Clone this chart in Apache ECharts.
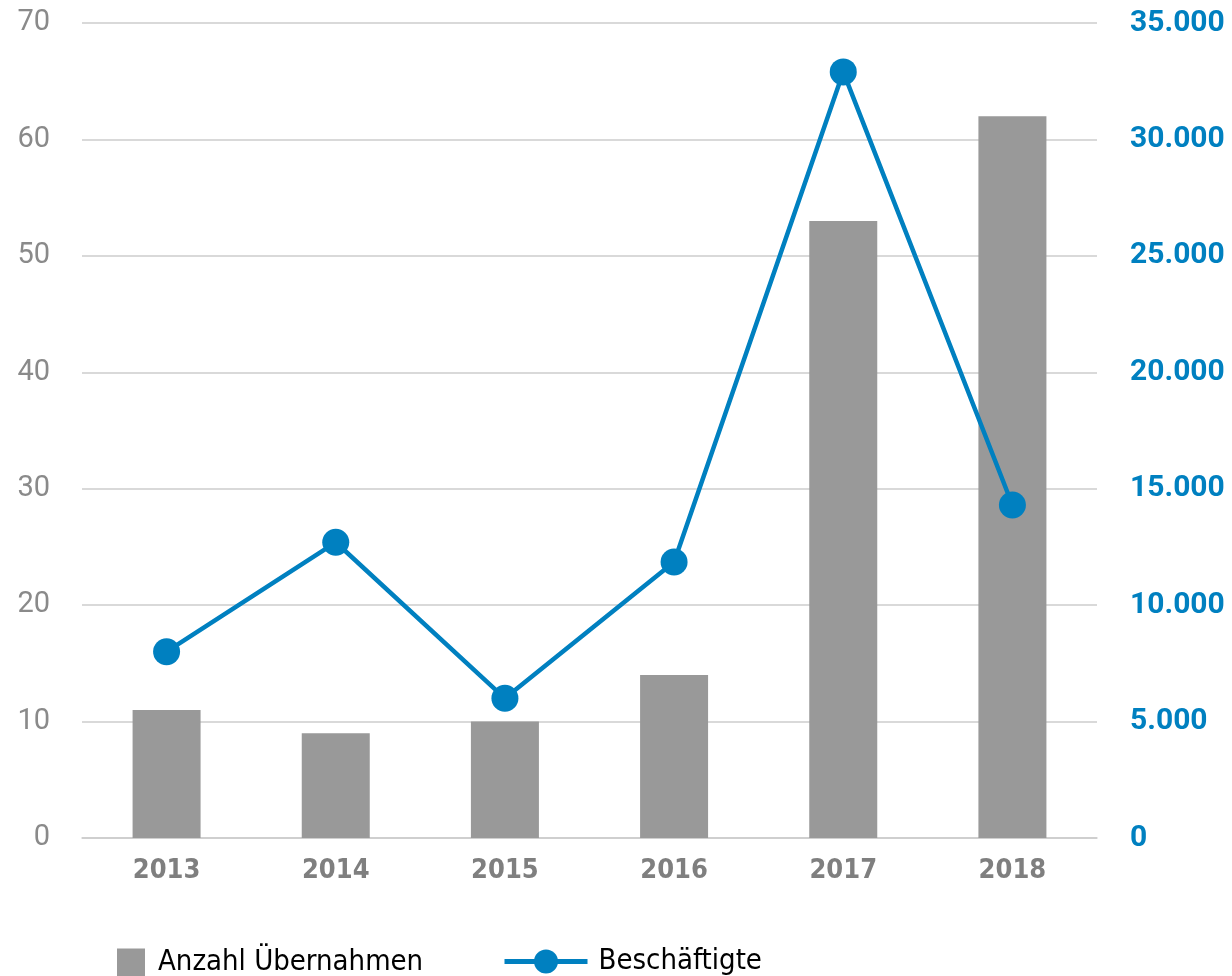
<!DOCTYPE html>
<html>
<head>
<meta charset="utf-8">
<script src="https://cdn.jsdelivr.net/npm/echarts@6/dist/echarts.min.js"></script>
<style>
  html, body { margin: 0; padding: 0; background: #fff; }
  #chart { width: 1232px; height: 976px; }
</style>
</head>
<body>
<div id="chart"></div>
<script>
// Data
var years = ['2013', '2014', '2015', '2016', '2017', '2018'];
var uebernahmen = [11, 9, 10, 14, 53, 62];
var beschaeftigte = [8000, 12700, 6000, 11850, 32900, 14300];

var narrow = '"Liberation Sans Narrow", "DejaVu Sans Condensed", Roboto, sans-serif';
var blue = '#0080C0';

var chart = echarts.init(document.getElementById('chart'), null, { renderer: 'canvas' });

var option = {
  animation: false,
  grid: { left: 82, right: 135, top: 23, bottom: 138 },
  legend: [
    {
      data: ['Anzahl Übernahmen'],
      left: 112, top: 943,
      itemWidth: 28, itemHeight: 28,
      icon: 'rect',
      textStyle: { fontFamily: narrow, fontSize: 29, color: '#000', padding: [0, 0, 0, 8] }
    },
    {
      data: ['Beschäftigte'],
      left: 497, top: 942,
      itemWidth: 83, itemHeight: 30,
      lineStyle: { width: 5 },
      textStyle: { fontFamily: narrow, fontSize: 29, color: '#000', padding: [0, 0, 0, 6] }
    }
  ],
  xAxis: {
    type: 'category',
    data: years,
    axisTick: { show: false },
    axisLine: { lineStyle: { color: '#cccccc', width: 1.5 } },
    axisLabel: { fontFamily: narrow, fontWeight: 'bold', fontSize: 27, color: '#7f7f7f', margin: 19 }
  },
  yAxis: [
    {
      type: 'value', min: 0, max: 70, interval: 10,
      axisLabel: { fontFamily: 'Roboto, sans-serif', fontSize: 29, color: '#8a8a8a', margin: 32 },
      splitLine: { lineStyle: { color: '#cccccc', width: 1.5 } },
      axisLine: { show: false }, axisTick: { show: false }
    },
    {
      type: 'value', min: 0, max: 35000, interval: 5000,
      position: 'right',
      axisLabel: {
        fontFamily: 'Roboto, sans-serif', fontSize: 30, fontWeight: 'bold', color: blue, margin: 33,
        formatter: function (v) { return v === 0 ? '0' : (v / 1000).toFixed(3); }
      },
      splitLine: { show: false },
      axisLine: { show: false }, axisTick: { show: false }
    }
  ],
  series: [
    {
      name: 'Anzahl Übernahmen',
      type: 'bar',
      data: uebernahmen,
      barWidth: 68,
      itemStyle: { color: '#999999' }
    },
    {
      name: 'Beschäftigte',
      type: 'line',
      yAxisIndex: 1,
      data: beschaeftigte,
      symbol: 'circle',
      symbolSize: 27,
      lineStyle: { color: blue, width: 4.5 },
      itemStyle: { color: blue }
    }
  ]
};

chart.setOption(option);
</script>
</body>
</html>
